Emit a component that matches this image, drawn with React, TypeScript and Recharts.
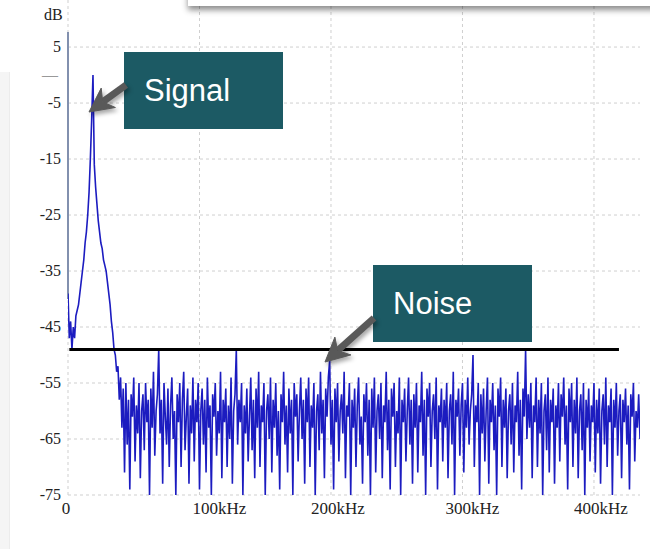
import React from "react";
import {
  LineChart,
  Line,
  XAxis,
  YAxis,
  CartesianGrid,
  ReferenceLine,
} from "recharts";

// Spectrum: signal peak near 19 kHz, then the noise floor up to ~435 kHz.
const STEP_KHZ = 1;

// 0..37 kHz: DC edge and the signal peak
const SIGNAL_DB = [
  -39, -47, -44, -49, -45, -47, -43, -42, -41, -39, -37, -35, -33, -30, -28,
  -25, -21, -15, -8, 0, -16, -20, -23, -26, -28, -30, -31, -33, -34, -35, -37,
  -39, -41, -44, -46, -49, -50, -53,
];

// 38..435 kHz: noise
const NOISE_DB = [
  -52, -58, -54, -63, -56, -71, -55, -66, -58, -74, -57, -61, -54, -69, -59, -64, -55, -72, -60, -57,
  -67, -55, -62, -58, -75, -56, -63, -53, -68, -60, -57, -49, -64, -58, -73, -55, -61, -66, -56, -70,
  -59, -54, -65, -60, -75, -57, -62, -55, -70, -58, -53, -67, -61, -56, -73, -59, -64, -54, -69, -58,
  -62, -55, -74, -60, -56, -66, -58, -71, -54, -63, -59, -75, -57, -61, -55, -68, -60, -64, -53, -72,
  -58, -62, -56, -70, -59, -65, -54, -73, -60, -57, -49, -66, -58, -62, -55, -75, -59, -64, -56, -69,
  -61, -54, -67, -58, -72, -56, -63, -53, -70, -59, -62, -55, -75, -60, -57, -65, -54, -71, -58, -63,
  -55, -68, -60, -74, -57, -62, -53, -66, -59, -71, -56, -64, -58, -75, -55, -61, -57, -69, -60, -54,
  -65, -58, -73, -56, -62, -54, -70, -59, -63, -55, -75, -60, -57, -67, -53, -64, -58, -72, -56, -61,
  -54, -51, -66, -58, -74, -56, -62, -55, -69, -60, -57, -64, -53, -72, -59, -61, -55, -75, -58, -63,
  -56, -70, -59, -54, -66, -61, -73, -57, -62, -55, -68, -58, -75, -56, -63, -54, -71, -60, -57, -65,
  -55, -72, -59, -62, -53, -67, -58, -74, -56, -61, -55, -70, -60, -64, -54, -75, -58, -62, -56, -69,
  -60, -54, -66, -58, -73, -57, -63, -55, -71, -59, -62, -53, -68, -58, -75, -56, -61, -55, -70, -60,
  -57, -65, -54, -74, -59, -62, -56, -69, -58, -63, -55, -72, -60, -57, -66, -53, -75, -58, -61, -56,
  -68, -59, -55, -71, -58, -63, -54, -66, -60, -57, -50, -70, -59, -62, -55, -75, -57, -64, -56, -69,
  -60, -54, -73, -58, -62, -55, -67, -59, -75, -56, -61, -54, -70, -58, -63, -56, -72, -60, -57, -66,
  -55, -71, -59, -62, -53, -68, -58, -74, -56, -61, -49, -65, -57, -63, -55, -72, -59, -62, -54, -70,
  -58, -64, -55, -75, -60, -57, -67, -54, -71, -58, -62, -56, -73, -59, -63, -55, -69, -57, -61, -54,
  -66, -59, -74, -56, -62, -55, -70, -58, -64, -54, -72, -60, -57, -67, -55, -75, -58, -63, -56, -69,
  -59, -62, -55, -71, -58, -64, -56, -73, -60, -57, -66, -54, -70, -59, -62, -56, -75, -58, -63, -55,
  -68, -60, -57, -72, -58, -62, -56, -66, -59, -74, -57, -61, -55, -69, -60, -63, -57, -65,
];

const DB_TICKS = [5, 0, -5, -15, -25, -35, -45, -55, -65, -75];
const DB_GRID = [5, -5, -15, -25, -35, -45, -55, -65, -75];
const KHZ_TICKS = [0, 100, 200, 300, 400];
const KHZ_GRID = [0, 100, 200, 300, 400];

const NOISE_FLOOR_DB = -49;
const NOISE_FLOOR_FROM_KHZ = 1;
const NOISE_FLOOR_TO_KHZ = 419;

const data = [...SIGNAL_DB, ...NOISE_DB].map((db, i) => ({
  f: i * STEP_KHZ,
  db,
}));

const SERIF =
  "'Times New Roman', 'Liberation Serif', 'Noto Serif', 'DejaVu Serif', Times, serif";
const SANS = "'Liberation Sans', Arial, sans-serif";
const TEAL = "#1c5a64";

// labels in the original sit a little right of their gridlines
const KHZ_DX: Record<number, number> = { 0: -2, 100: 20, 200: 7, 300: 10, 400: 7 };

function KhzTick({ x, y, payload }: any) {
  const v = payload.value as number;
  return (
    <text
      x={x + (KHZ_DX[v] ?? 0)}
      y={y + 11}
      textAnchor="middle"
      style={{ fontFamily: SERIF }}
      fontSize={17}
      fill="#222"
    >
      {v === 0 ? "0" : `${v}kHz`}
    </text>
  );
}

function DbTick({ x, y, payload }: any) {
  const v = payload.value as number;
  if (v === 0) {
    return (
      <text x={x - 2} y={y + 5} textAnchor="end" style={{ fontFamily: SERIF }} fontSize={16} fill="#999">
        —
      </text>
    );
  }
  return (
    <text x={x + 1} y={y + 5} textAnchor="end" style={{ fontFamily: SERIF }} fontSize={16} fill="#222">
      {v}
    </text>
  );
}

function Callout({ left, top, text }: { left: number; top: number; text: string }) {
  return (
    <div
      style={{
        position: "absolute",
        left,
        top,
        width: 159,
        height: 77,
        background: TEAL,
        color: "#fff",
        fontFamily: SANS,
        fontSize: 31,
        lineHeight: "77px",
        paddingLeft: 20,
        boxSizing: "border-box",
      }}
    >
      {text}
    </div>
  );
}

export default function App() {
  return (
    <div
      style={{
        position: "absolute",
        left: 0,
        top: 0,
        width: 650,
        height: 549,
        background: "#fff",
        overflow: "hidden",
      }}
    >
      <div
        style={{
          position: "absolute",
          left: 0,
          top: 72,
          width: 9,
          height: 477,
          background: "#f5f5f5",
          borderRight: "1px solid #ececec",
        }}
      />
      <div
        style={{
          position: "absolute",
          left: 44,
          top: 6,
          fontFamily: SERIF,
          fontSize: 16,
          color: "#222",
        }}
      >
        dB
      </div>
      <div style={{ position: "absolute", left: 0, top: 0 }}>
        <LineChart
          width={650}
          height={549}
          data={data}
          margin={{ top: 0, right: 10, left: 8, bottom: 24 }}
        >
          <CartesianGrid
            stroke="#cfcfcf"
            strokeDasharray="3 3"
            horizontalValues={DB_GRID}
            verticalValues={KHZ_GRID}
          />
          <XAxis
            type="number"
            dataKey="f"
            domain={[0, 435]}
            ticks={KHZ_TICKS}
            interval={0}
            allowDataOverflow
            axisLine={false}
            tickLine={false}
            height={30}
            tick={<KhzTick />}
          />
          <YAxis
            type="number"
            domain={[-75, 13.4]}
            ticks={DB_TICKS}
            interval={0}
            allowDataOverflow
            axisLine={false}
            tickLine={false}
            width={60}
            tick={<DbTick />}
          />
          <ReferenceLine
            segment={[
              { x: 0, y: 7.7 },
              { x: 0, y: -40 },
            ]}
            stroke="#8290ae"
            strokeWidth={2}
          />
          <Line
            type="linear"
            dataKey="db"
            stroke="#1c1cc0"
            strokeWidth={1.6}
            dot={false}
            isAnimationActive={false}
          />
          <ReferenceLine
            segment={[
              { x: NOISE_FLOOR_FROM_KHZ, y: NOISE_FLOOR_DB },
              { x: NOISE_FLOOR_TO_KHZ, y: NOISE_FLOOR_DB },
            ]}
            stroke="#000"
            strokeWidth={3}
          />
        </LineChart>
      </div>
      <div
        style={{
          position: "absolute",
          left: 188,
          top: -20,
          width: 480,
          height: 26,
          background: "#fff",
          boxShadow: "0 4px 6px rgba(0,0,0,0.45)",
        }}
      />
      <Callout left={124} top={52} text="Signal" />
      <Callout left={373} top={265} text="Noise" />
      <svg
        width={650}
        height={549}
        style={{
          position: "absolute",
          left: 0,
          top: 0,
          pointerEvents: "none",
          filter: "drop-shadow(2px 3px 2px rgba(0,0,0,0.35))",
        }}
      >
        <g fill="#595959" stroke="#595959">
          <line x1={126} y1={85} x2={102.7} y2={101.9} strokeWidth={7} />
          <polygon points="89,112 101.2,88.1 102.7,101.9 115.4,107.5" strokeWidth={1} />
          <line x1={374} y1={318} x2={337.6} y2={350.6} strokeWidth={7} />
          <polygon points="325,362 334.9,337.1 337.6,350.6 350.9,354.9" strokeWidth={1} />
        </g>
      </svg>
    </div>
  );
}
